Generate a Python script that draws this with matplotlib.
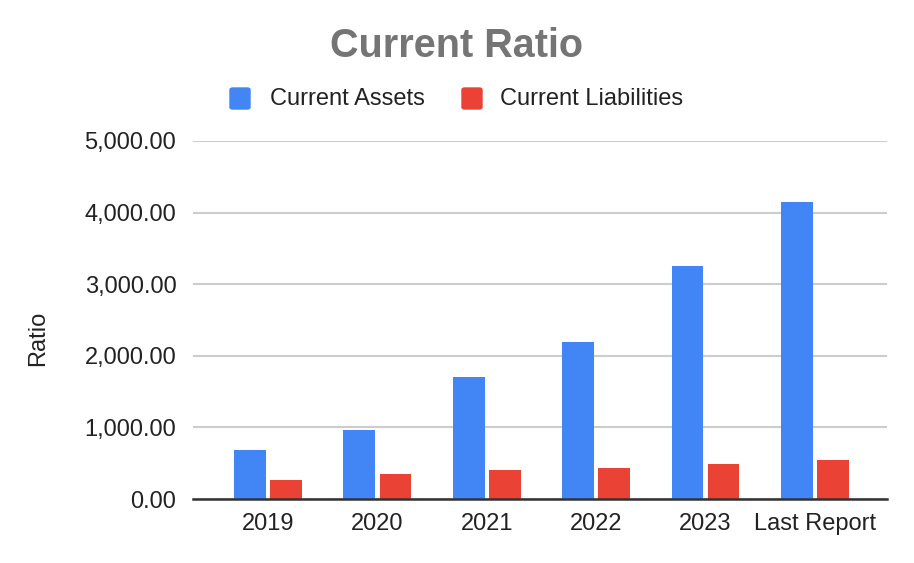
import numpy as np
import matplotlib.pyplot as plt
from matplotlib.patches import FancyBboxPatch

plt.rcParams['font.family'] = ['Liberation Sans', 'DejaVu Sans']

categories = ['2019', '2020', '2021', '2022', '2023', 'Last Report']
current_assets = [685, 967, 1700, 2190, 3259, 4148]
current_liabilities = [263, 347, 404, 432, 488, 545]
yticks = [0, 1000, 2000, 3000, 4000, 5000]

blue = '#4285F4'
red = '#EA4335'

fig = plt.figure(figsize=(9.14, 5.63), dpi=100)
ax = fig.add_axes([193/914, 1-499/563, (887-193)/914, (499-141)/563])

x = np.arange(len(categories))
w = 0.29
off = 0.165
ax.bar(x - off, current_assets, width=w, color=blue, zorder=3)
ax.bar(x + off, current_liabilities, width=w, color=red, zorder=3)

ax.set_xlim(-0.686, 5.66)
ax.set_ylim(0, 5000)
ax.set_yticks(yticks)
ax.set_yticklabels(['{:,.2f}'.format(v) for v in yticks], fontsize=17, color='#222222')
ax.set_xticks(x)
ax.set_xticklabels(categories, fontsize=17, color='#222222')
ax.tick_params(axis='both', length=0)
ax.tick_params(axis='y', pad=12)
ax.tick_params(axis='x', pad=10)
ax.grid(axis='y', color='#cccccc', linewidth=1.5, zorder=0)
for s in ['top', 'right', 'left']:
    ax.spines[s].set_visible(False)
ax.spines['bottom'].set_color('#333333')
ax.spines['bottom'].set_linewidth(1.8)
ax.spines['bottom'].set_zorder(4)

fig.text(38/914, 1-338/563, 'Ratio', rotation=90, ha='center', va='center',
         fontsize=17, color='#222222')
fig.text(457/914, 1-46/563, 'Current Ratio', ha='center', va='center',
         fontsize=28.5, fontweight='bold', color='#757575')

# legend
for bx, tx, col, lab in [(230, 270, blue, 'Current Assets'), (462, 500, red, 'Current Liabilities')]:
    fig.patches.append(FancyBboxPatch((bx/914, 1-109/563), 20/914, 21/563,
                                      boxstyle='round,pad=0,rounding_size=0.003',
                                      transform=fig.transFigure, color=col))
    fig.text(tx/914, 1-99/563, lab, ha='left', va='center', fontsize=17, color='#222222')

fig.savefig('out.png', dpi=100)
